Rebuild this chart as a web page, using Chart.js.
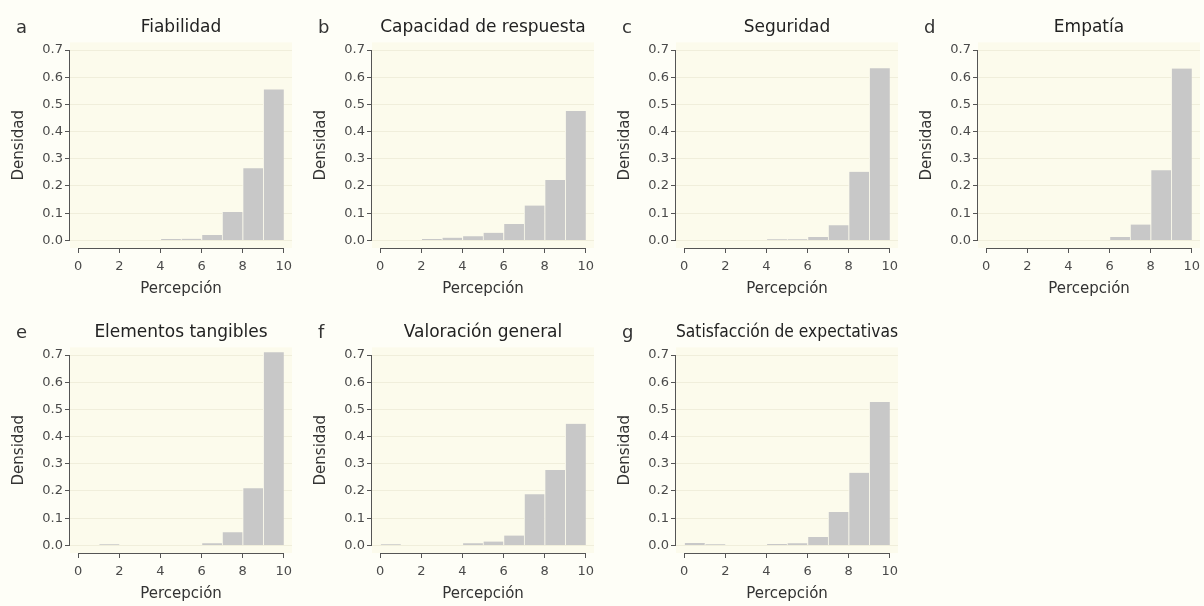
<!DOCTYPE html>
<html>
<head>
<meta charset="utf-8">
<script src="https://cdn.jsdelivr.net/npm/chart.js@4.4.1/dist/chart.umd.min.js"></script>
<style>
  html, body { margin: 0; padding: 0; background: #fefef7; }
  #fig { position: relative; width: 1204px; height: 606px; overflow: hidden; }
  #fig canvas { position: absolute; }
</style>
</head>
<body>
<div id="fig"></div>
<script>
// histogram bins of width 1 on the 0-10 scale
const binCenters = [0.5, 1.5, 2.5, 3.5, 4.5, 5.5, 6.5, 7.5, 8.5, 9.5];
const xTicks = [0, 2, 4, 6, 8, 10];
const yTicks = [0, 0.1, 0.2, 0.3, 0.4, 0.5, 0.6, 0.7];

const panelLetters = ['a', 'b', 'c', 'd', 'e', 'f', 'g'];
const panelTitles = [
    'Fiabilidad',
    'Capacidad de respuesta',
    'Seguridad',
    'Empatía',
    'Elementos tangibles',
    'Valoración general',
    'Satisfacción de expectativas',
];

const fiabilidad   = [0, 0, 0, 0, 0.005, 0.006, 0.02, 0.104, 0.265, 0.555];
const capacidad    = [0, 0, 0.005, 0.01, 0.015, 0.028, 0.06, 0.128, 0.222, 0.476];
const seguridad    = [0, 0, 0, 0, 0.004, 0.004, 0.012, 0.056, 0.252, 0.633];
const empatia      = [0, 0, 0, 0, 0, 0, 0.012, 0.058, 0.258, 0.632];
const tangibles    = [0, 0.004, 0, 0, 0, 0, 0.008, 0.048, 0.21, 0.71];
const valoracion   = [0.004, 0, 0, 0, 0.008, 0.014, 0.036, 0.188, 0.277, 0.447];
const satisfaccion = [0.009, 0.004, 0, 0, 0.005, 0.008, 0.031, 0.123, 0.267, 0.527];

const series = [fiabilidad, capacidad, seguridad, empatia, tangibles, valoracion, satisfaccion];

const FONT = '"DejaVu Sans", sans-serif';
const colLeft = [0, 302, 606, 908];
const rowTop = [0, 305];

// cream plot region, R-style axis lines and the panel letter
const panelDecor = {
    id: 'panelDecor',
    beforeDraw(chart) {
        const { ctx, chartArea: a } = chart;
        ctx.save();
        ctx.fillStyle = '#fcfbec';
        ctx.fillRect(a.left, a.top, a.right - a.left, a.bottom - a.top);
        ctx.restore();
    },
    afterDraw(chart, args, opts) {
        const { ctx, chartArea: a, scales } = chart;
        ctx.save();
        ctx.strokeStyle = '#555';
        ctx.lineWidth = 1;
        ctx.beginPath();
        const yb = Math.round(a.bottom) + 0.5;
        ctx.moveTo(scales.x.getPixelForValue(xTicks[0]), yb);
        ctx.lineTo(scales.x.getPixelForValue(xTicks[xTicks.length - 1]), yb);
        const xl = Math.round(a.left) - 0.5;
        ctx.moveTo(xl, scales.y.getPixelForValue(yTicks[0]));
        ctx.lineTo(xl, scales.y.getPixelForValue(yTicks[yTicks.length - 1]));
        ctx.stroke();

        ctx.fillStyle = '#333';
        ctx.font = '18px ' + FONT;
        ctx.textBaseline = 'alphabetic';
        ctx.fillText(opts.letter, 16, 33);
        ctx.restore();
    },
};

const fig = document.getElementById('fig');

series.forEach((values, i) => {
    const canvas = document.createElement('canvas');
    canvas.width = 320;
    canvas.height = 300;
    canvas.style.left = colLeft[i % 4] + 'px';
    canvas.style.top = rowTop[Math.floor(i / 4)] + 'px';
    fig.appendChild(canvas);

    new Chart(canvas, {
        type: 'bar',
        data: {
            datasets: [
                {
                    data: values.map((v, k) => ({ x: binCenters[k], y: v })),
                    backgroundColor: '#c8c8c8',
                    borderColor: '#fcfbec',
                    borderWidth: { left: 1, right: 0, top: 0, bottom: 0 },
                    borderSkipped: false,
                    barPercentage: 1,
                    categoryPercentage: 1,
                },
            ],
        },
        options: {
            responsive: false,
            animation: false,
            devicePixelRatio: 1,
            layout: { padding: { left: 0, right: 28, top: 0, bottom: 0 } },
            plugins: {
                legend: { display: false },
                tooltip: { enabled: false },
                title: {
                    display: true,
                    text: panelTitles[i],
                    fullSize: false,
                    color: '#222',
                    font: { family: FONT, size: 17, weight: 'normal' },
                    padding: { top: 17, bottom: 5 },
                },
                panelDecor: { letter: panelLetters[i] },
            },
            scales: {
                x: {
                    type: 'linear',
                    offset: false,
                    min: -0.4,
                    max: 10.4,
                    afterBuildTicks: (s) => {
                        s.ticks = xTicks.map((v) => ({ value: v }));
                    },
                    afterFit: (s) => {
                        s.height = 52;
                    },
                    grid: {
                        offset: false,
                        drawOnChartArea: false,
                        tickLength: 5,
                        color: '#555',
                        tickColor: '#555',
                    },
                    border: { display: false },
                    ticks: {
                        autoSkip: false,
                        maxRotation: 0,
                        padding: 6,
                        color: '#4a4a4a',
                        font: { family: FONT, size: 13 },
                        callback: (v) => v,
                    },
                    title: {
                        display: true,
                        text: 'Percepción',
                        color: '#333',
                        font: { family: FONT, size: 15 },
                        padding: { top: 0, bottom: 2 },
                    },
                },
                y: {
                    min: -0.028,
                    max: 0.728,
                    afterBuildTicks: (s) => {
                        s.ticks = yTicks.map((v) => ({ value: v }));
                    },
                    afterFit: (s) => {
                        s.width = 70;
                    },
                    grid: {
                        color: '#f0eedb',
                        tickColor: '#555',
                        tickLength: 5,
                    },
                    border: { display: false },
                    ticks: {
                        padding: 2,
                        color: '#4a4a4a',
                        font: { family: FONT, size: 13 },
                        callback: (v) => v.toFixed(1),
                    },
                    title: {
                        display: true,
                        text: 'Densidad',
                        color: '#333',
                        font: { family: FONT, size: 15 },
                        padding: { top: 10, bottom: 0 },
                    },
                },
            },
        },
        plugins: [panelDecor],
    });
});
</script>
</body>
</html>
